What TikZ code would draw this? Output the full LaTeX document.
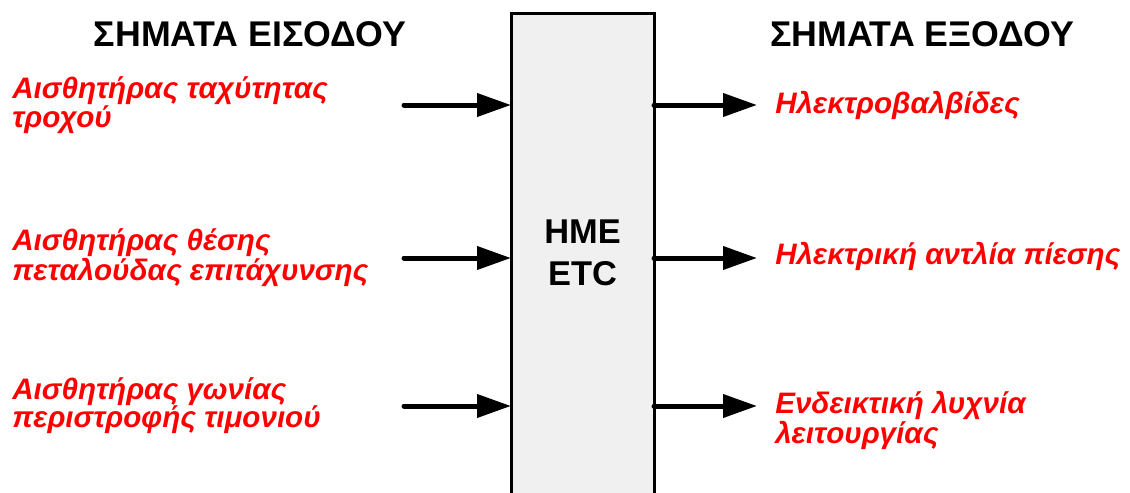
\documentclass[tikz,border=0pt]{standalone}
\usepackage{fontspec}
\setmainfont{Liberation Sans}
\usetikzlibrary{arrows.meta}
\definecolor{boxgray}{RGB}{240,240,240}
\definecolor{sigred}{RGB}{255,0,0}
\tikzset{
  px/.style={x=0.75pt,y=-0.75pt},
  heading/.style={font=\fontsize{26.8}{30}\selectfont\bfseries, text=black, inner sep=0pt, anchor=base},
  sig/.style={font=\fontsize{22.2}{21}\selectfont\bfseries\itshape, text=sigred, inner sep=0pt, anchor=base west, align=left},
  ecu/.style={font=\fontsize{25.8}{31.5}\selectfont\bfseries, inner sep=0pt, anchor=base, align=center},
  sigarrow/.style={line width=3.75pt, line cap=round, -{Triangle[length=25.5pt,width=17pt]}},
  boxline/.style={line width=2.25pt},
}
\begin{document}
\begin{tikzpicture}[px]
\useasboundingbox (0,0) rectangle (1130,492);
% ECU box
\coordinate (bl) at (511,500);
\coordinate (tl) at (511,14);
\coordinate (tr) at (654,14);
\coordinate (br) at (654,500);
\fill[boxgray] (bl) rectangle (tr);
\draw[boxline] (bl) -- (tl) -- (tr) -- (br);
% multi-line nodes are placed by the baseline of their last line
\node[ecu] (ecu) at (582.5,285) {HME\\ETC};
% headings
\node[heading] (hin) at (250,47) {ΣΗΜΑΤΑ ΕΙΣΟΔΟΥ};
\node[heading] (hout) at (922,47) {ΣΗΜΑΤΑ ΕΞΟΔΟΥ};
% inputs
\node[sig] (in1) at (12,127) {Αισθητήρας ταχύτητας\\τροχού};
\node[sig] (in2) at (12,280) {Αισθητήρας θέσης\\πεταλούδας επιτάχυνσης};
\node[sig] (in3) at (12,427) {Αισθητήρας γωνίας\\περιστροφής τιμονιού};
% outputs
\node[sig] (out1) at (775,113) {Ηλεκτροβαλβίδες};
\node[sig] (out2) at (775,264) {Ηλεκτρική αντλία πίεσης};
\node[sig] (out3) at (775,443) {Ενδεικτική λυχνία\\λειτουργίας};
% arrow end points
\coordinate (a1s) at (404,105); \coordinate (a1e) at (511,105);
\coordinate (a2s) at (404,258); \coordinate (a2e) at (511,258);
\coordinate (a3s) at (404,406); \coordinate (a3e) at (511,406);
\coordinate (b1s) at (654,105); \coordinate (b1e) at (757,105);
\coordinate (b2s) at (654,258); \coordinate (b2e) at (757,258);
\coordinate (b3s) at (654,406); \coordinate (b3e) at (757,406);
\draw[sigarrow] (a1s) -- (a1e);
\draw[sigarrow] (a2s) -- (a2e);
\draw[sigarrow] (a3s) -- (a3e);
\draw[sigarrow] (b1s) -- (b1e);
\draw[sigarrow] (b2s) -- (b2e);
\draw[sigarrow] (b3s) -- (b3e);
\end{tikzpicture}
\end{document}
